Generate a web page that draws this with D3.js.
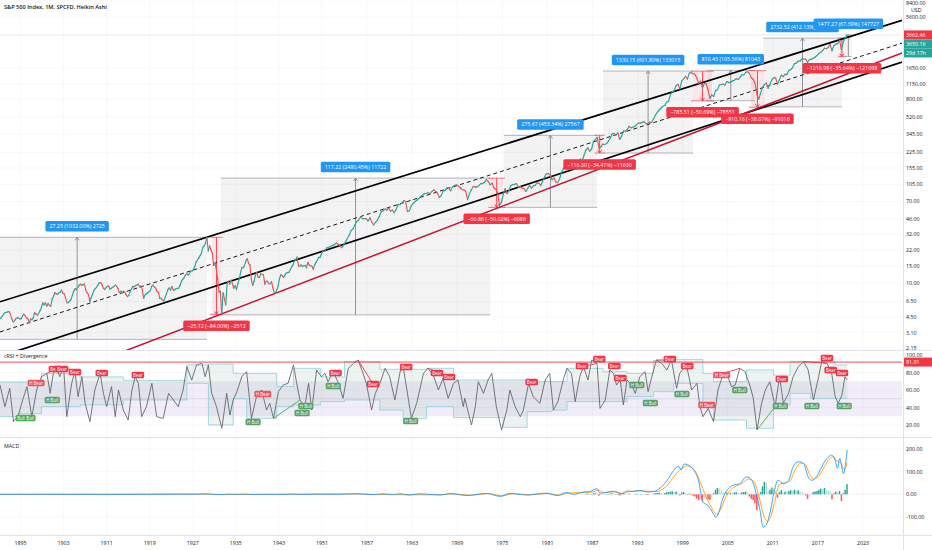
<!DOCTYPE html>
<html><head><meta charset="utf-8">
<script src="https://cdn.jsdelivr.net/npm/d3@7"></script>
<style>
body{margin:0;background:#fff;}
svg{display:block;font-family:"Open Sans","Noto Sans",sans-serif;}
</style></head><body>
<svg id="c" width="932" height="550"></svg>
<script>
// ---------------- DATA ----------------
const title = "S&P 500 Index, 1M, SPCFD, Heikin Ashi";
const xTickYears = [1895,1903,1911,1919,1927,1935,1943,1951,1957,1963,1969,1975,1981,1987,1993,1999,2005,2011,2017,2023];
const priceTicks = [8400,5600,1650,1150,800,520,345,225,155,105,70,46,32,22,15,10,6.5,4.5,3.1,2.15];
const rsiTicks = [100,80,60,40,20];
const macdTicks = [200,100,0,-100];
const lastPrice = 3662.46, closePrice = 3650.16, countdown = "29d 17h", rsiLevel = 91.91;

// quarterly Heikin-Ashi closes, starting 1891
const priceStart = 1891;
const priceQ = [
4.3,4.4,4.6,4.8, 5.0,5.0,5.1,5.1, 4.8,4.3,4.0,4.1, 4.3,4.4,4.4,4.3,
4.3,4.6,4.8,4.6, 4.4,4.3,3.9,4.3, 4.2,4.4,5.0,4.8, 4.7,4.9,5.2,5.6,
6.3,6.0,6.3,5.8, 6.2,5.9,5.8,6.9, 7.3,8.0,7.8,7.7, 8.0,8.1,8.5,7.9,
7.8,7.0,6.3,6.3, 6.6,6.8,7.5,8.3, 8.8,8.6,9.1,9.5, 9.8,9.5,9.7,9.8,
8.5,8.0,7.7,6.5, 7.1,7.7,8.4,8.8, 9.1,9.6,10.1,10.2, 9.7,8.9,8.6,9.0,
9.3,9.4,8.7,8.9, 9.1,9.3,9.6,9.3, 8.8,8.0,8.3,8.0, 8.3,8.1,7.6,7.3,
7.5,8.2,8.8,9.3, 9.2,9.5,9.6,9.8, 9.2,9.4,8.6,7.0, 7.6,7.8,8.0,8.2,
8.4,9.3,9.6,9.1, 8.9,8.2,8.1,7.0, 7.0,6.7,6.6,7.2, 7.8,8.6,9.0,8.5,
9.3,8.5,8.6,8.8, 8.9,8.9,9.5,10.5, 11.0,11.4,12.2,12.5, 12.2,12.6,13.4,13.4,
13.9,14.9,16.7,17.4, 18.3,19.4,20.6,23.5, 24.4,26.0,29.9,21.5, 24.5,22.0,20.5,15.3,
16.0,14.0,11.0,8.1, 8.3,4.8,8.0,6.9, 6.0,10.0,10.5,9.8, 10.8,9.9,8.9,9.5,
8.6,10.0,11.0,13.0, 14.5,14.5,15.5,17.0, 18.0,16.0,15.5,11.0, 9.5,10.5,12.0,13.0,
11.5,11.5,12.5,12.4, 12.2,9.8,10.5,10.5, 9.9,9.9,10.4,9.0, 8.0,8.0,8.6,9.5,
11.3,12.3,12.0,11.5, 12.2,12.8,12.9,13.0, 13.9,14.8,15.5,17.0, 17.6,18.7,15.1,15.0,
15.5,14.9,15.2,15.3, 14.5,16.5,15.5,15.2, 15.0,14.0,15.4,16.5, 17.3,18.5,18.5,20.0,
21.6,21.3,23.3,23.4, 24.0,24.5,25.0,26.0, 25.5,24.5,23.3,24.8, 26.8,29.0,31.5,35.0,
36.5,40.0,43.5,45.0, 48.5,46.5,46.5,46.5, 44.0,47.5,43.0,40.0, 42.5,45.0,49.0,55.0,
56.0,58.5,57.0,59.5, 55.5,57.0,53.5,58.0, 65.0,65.0,67.0,71.5, 70.0,55.0,56.0,63.0,
66.5,69.5,72.0,75.0, 79.0,81.5,84.0,84.5, 86.0,84.0,89.0,92.0, 89.0,85.0,77.0,80.5,
90.0,91.0,97.0,96.0, 90.0,99.0,102.0,103.8, 101.5,97.5,93.0,92.0, 89.5,73.0,84.0,92.0,
100.0,99.0,98.5,102.0, 107.0,107.0,110.0,118.0, 112.0,104.0,108.0,97.5, 93.5,86.0,63.5,68.5,
83.0,95.0,84.0,90.0, 102.0,104.0,105.0,107.0, 98.0,100.0,96.0,95.0, 89.0,95.5,102.5,96.0,
101.5,102.5,109.0,107.5, 102.0,114.0,125.0,135.0, 136.0,131.0,117.0,122.5, 111.0,109.5,120.0,140.0,
152.0,168.0,166.0,164.0, 159.0,153.0,166.0,167.0, 180.0,191.0,182.0,211.0, 238.0,250.0,231.0,242.0,
291.0,304.0,321.0,247.0, 258.0,273.0,271.0,277.0, 294.0,317.0,349.0,353.0, 339.0,358.0,306.0,330.0,
375.0,371.0,387.0,417.0, 403.0,408.0,417.0,435.0, 451.0,450.0,458.0,466.0, 445.0,444.0,462.0,459.0,
500.0,544.0,584.0,615.0, 645.0,670.0,687.0,740.0, 757.0,885.0,947.0,970.0, 1101.0,1133.0,1017.0,1229.0,
1286.0,1372.0,1282.0,1469.0, 1498.0,1454.0,1436.0,1320.0, 1160.0,1224.0,1040.0,1148.0, 1147.0,989.0,815.0,880.0,
848.0,974.0,995.0,1111.0, 1126.0,1140.0,1114.0,1211.0, 1180.0,1191.0,1228.0,1248.0, 1294.0,1270.0,1335.0,1418.0,
1420.0,1503.0,1526.0,1468.0, 1322.0,1280.0,1166.0,903.0, 797.0,919.0,1057.0,1115.0, 1169.0,1030.0,1141.0,1257.0,
1325.0,1320.0,1131.0,1257.0, 1408.0,1362.0,1440.0,1426.0, 1569.0,1606.0,1681.0,1848.0, 1872.0,1960.0,1972.0,2058.0,
2067.0,2063.0,1920.0,2043.0, 2059.0,2098.0,2168.0,2238.0, 2362.0,2423.0,2519.0,2673.0, 2640.0,2718.0,2913.0,2506.0,
2834.0,2941.0,2976.0,3230.0, 2584.0,3100.0,3363.0,3650.16
];

// channel lines: two anchor points [year, price]
const upperLine = [[1929.7,30],[2019.7,3230]];
const midLine = [[1895,3.68],[2023,2241]];
const lowerLine = [[1895,2.06],[2023,1418]];
const supportLine = [[1932.2,4.8],[2009.2,650]];

// price-range measurements [startYear, endYear, low, high, label]
const upMoves = [
 [1881.4,1929.64,2.64,29.89,"27.25 (1032.00%) 2725"],
 [1932.2,1973.4,4.726,121.95,"117.22 (2480.45%) 11722"],
 [1975.2,1987.6,60.81,336.48,"275.67 (453.34%) 27567"],
 [1988.4,2000.4,221.03,1551.18,"1330.15 (601.80%) 133015"],
 [2002.2,2008.6,767.7,1578.1,"810.43 (105.56%) 81043"],
 [2009.7,2020.2,663.03,3395.55,"2732.52 (412.13%) 273252"],
 [2020.6,2021.5,2192.1,3669.4,"1477.27 (67.39%) 147727"]
];
const downMoves = [
 [1930.6,1932.2,4.785,29.905,"\u221225.12 (\u221284.00%) \u22122512"],
 [1973.4,1975.1,60.81,121.67,"\u221260.86 (\u221250.02%) \u22126086"],
 [1987.55,1988.35,221.1,337.4,"\u2212116.30 (\u221234.47%) \u221211630"],
 [2000.4,2002.9,764.1,1549.6,"\u2212785.51 (\u221250.69%) \u221278551"],
 [2008.1,2009.8,657.2,1567.3,"\u2212910.16 (\u221258.07%) \u221291016"],
 [2019.95,2020.45,2186.8,3397.8,"\u22121210.98 (\u221235.64%) \u2212121098"]
];

// cRSI [year, value]
const crsi = [
[1891.2,65.7],[1892.1,41],[1893.0,61.9],[1893.7,23.8],[1894.6,31.4],[1895.5,50.5],[1896.2,63.8],[1897.1,29.5],
[1898.0,60],[1898.9,75.2],[1899.9,79],[1900.5,56.2],[1901.1,79],[1901.7,84.8],[1902.3,75.2],[1903.0,86.7],
[1903.6,29.5],[1904.5,67.6],[1905.1,81],[1905.7,52.4],[1906.4,75.2],[1907.0,44.8],[1907.9,23.8],[1908.8,60],
[1909.8,79],[1910.4,56.2],[1911.0,41],[1911.9,63.8],[1912.6,29.5],[1913.2,60],[1914.1,37.1],[1915.0,25.7],
[1915.7,60],[1916.3,75.2],[1916.9,67.6],[1917.5,29.5],[1918.4,41],[1919.4,67.6],[1920.3,29.5],[1921.5,27.6],
[1922.5,56.2],[1923.4,48.6],[1924.3,41],[1925.2,60],[1925.9,86.7],[1926.8,71.4],[1927.7,88.6],[1928.7,90.5],
[1929.3,75.2],[1929.9,88.6],[1930.5,56.2],[1931.4,41],[1932.4,16.2],[1933.3,56.2],[1933.9,31.4],[1934.5,48.6],
[1935.2,58.1],[1936.1,75.2],[1937.0,81],[1937.9,27.6],[1938.9,54.3],[1939.8,60],[1940.7,37.1],[1941.3,44.8],
[1942.0,27.6],[1942.9,58.1],[1943.8,65.7],[1944.7,67.6],[1945.7,88.6],[1946.3,67.6],[1946.9,48.6],[1947.8,41],
[1948.5,67.6],[1949.1,37.1],[1950.0,82.9],[1950.9,75.2],[1951.4,79],[1951.8,69.5],[1952.5,81],[1953.2,67.6],
[1953.8,50.5],[1954.5,84.8],[1955.2,90.5],[1955.8,94.3],[1956.3,82.9],[1956.9,67.6],[1957.6,37.1],[1958.1,56.2],
[1958.7,67.6],[1959.4,84.8],[1960.0,75.2],[1960.7,48.6],[1961.4,81],[1961.8,86.7],[1962.3,60],[1962.9,27.6],
[1963.6,44.8],[1964.5,79],[1965.1,84.8],[1965.8,77.1],[1966.5,60],[1967.1,73.3],[1967.8,50.5],[1968.5,67.6],
[1969.1,71.4],[1969.8,41],[1970.0,50.5],[1970.5,33.3],[1970.9,20],[1971.4,41],[1971.8,69.5],[1972.5,56.2],
[1973.1,71.4],[1973.6,79],[1974.2,41],[1974.9,14.3],[1975.6,37.1],[1976.0,60],[1976.7,41],[1977.4,29.5],
[1977.8,37.1],[1978.5,67.6],[1979.1,52.4],[1980.0,44.8],[1980.7,71.4],[1981.3,79],[1981.8,37.1],[1982.4,46.7],
[1983.1,71.4],[1983.6,84.8],[1984.2,79],[1984.7,46.7],[1985.3,75.2],[1985.8,86.7],[1986.4,71.4],[1986.9,94.3],
[1987.6,90.5],[1988.0,39],[1988.7,48.6],[1989.3,82.9],[1989.8,79],[1990.2,65.7],[1990.7,71.4],[1991.1,42.9],
[1991.6,71.4],[1992.2,65.7],[1992.7,56.2],[1993.3,75.2],[1994.0,81],[1994.4,58.1],[1994.9,75.2],[1995.5,94.3],
[1996.2,90.5],[1996.9,82.9],[1997.5,94.3],[1998.2,61.9],[1998.6,79],[1999.5,88.6],[2000.2,60],[2000.9,67.6],
[2001.3,41],[2001.7,29.5],[2002.4,39],[2003.1,23.8],[2003.7,60],[2004.4,79],[2005.1,73.3],[2005.5,63.8],
[2006.0,65.7],[2006.6,84.8],[2007.3,81],[2008.0,63.8],[2008.4,50.5],[2008.9,14.3],[2009.5,44.8],[2010.0,60],
[2010.6,69.5],[2011.3,41],[2011.9,75.2],[2012.4,44.8],[2013.1,56.2],[2013.7,75.2],[2014.4,86.7],[2015.1,92.4],
[2015.7,82.9],[2016.4,48.6],[2017.1,75.2],[2017.5,92.4],[2018.2,90.5],[2018.8,81],[2019.3,52.4],[2019.7,44.8],
[2020.2,54.3],[2020.6,75.2],[2020.9,71.4]
];
// cRSI dynamic bands [startYear, upper, lower]
const crsiBands = [
[1891.2,69,29.5],[1894.8,69,33],[1898.9,79,41],[1906.1,75,43],[1914.1,71,48.6],[1925.9,88.6,67.6],
[1929.9,89.7,20],[1934.5,79,50],[1937.0,79,27.6],[1942.6,64,41],[1945.7,84.8,42.8],[1950.7,75,46.7],
[1954.0,92.4,48.6],[1958.7,83.6,37.1],[1961.8,83.6,27.6],[1964.9,84.8,41],[1968.5,71.4,28.5],[1975.1,71.4,17.3],
[1978.3,69.5,35.2],[1981.6,69.5,37],[1983.6,84.8,46.7],[1988.4,81,46.7],[1991.6,79,52.4],[1995.1,93.5,58.1],
[1997.8,95,67.6],[2001.7,79,41],[2003.1,69.5,25.7],[2007.5,82.9,16.2],[2011.1,77,42.8],[2013.3,92.4,56.2],
[2016.0,92.4,50.5],[2019.3,88.6,50.5],[2020.9,88.6,50.5]
];
const crsiBandLevels = [30,50,70];
// divergence labels [year, value, text]
const crsiLabels = [
[1895.1,28,"Bull"],[1896.8,28,"Bull"],[1897.9,68,"H Bear"],[1900.9,48.6,"H Bull"],[1901.4,84,"Bear"],[1902.7,84,"Bear"],
[1905.1,80.6,"Bear"],[1910.1,79.4,"Bear"],[1916.8,77.1,"Bear"],[1938.2,23.4,"H Bull"],[1940.0,55.4,"H Bear"],
[1948.0,41.7,"H Bull"],[1947.3,33.7,"H Bull"],[1952.5,64.6,"H Bull"],[1952.8,79.4,"Bear"],[1957.8,66.9,"Bear"],
[1962.2,86.3,"Bear"],[1962.8,24.6,"H Bull"],[1966.3,79.4,"Bear"],[1967.9,74.9,"Bear"],
[1978.9,69.1,"Bear"],[1985.6,87.4,"Bear"],[1987.9,95.4,"Bear"],[1989.9,87.4,"Bear"],[1990.7,73.7,"Bear"],
[1992.9,65.7,"H Bull"],[1994.7,45.1,"H Bull"],[1997.3,95.4,"Bear"],[1999.6,87.4,"Bear"],[1998.9,55.4,"H Bull"],
[2004.2,77.1,"H Bear"],[2002.2,42.9,"H Bear"],[2006.6,60,"H Bull"],[2012.0,41.7,"H Bull"],[2012.2,72.6,"Bear"],
[2018.2,96.6,"Bear"],[2018.7,82.9,"Bear"],[2020.2,79.4,"Bear"],[2016.2,41.7,"H Bull"],[2020.5,41.7,"H Bull"]
];
// divergence lines [y1, v1, y2, v2, kind]
const crsiDivs = [
[1899.9,79,1901.7,84.8,"bear"],[1903.0,86.7,1905.1,81,"bear"],[1955.8,94.3,1957.6,69.5,"bear"],
[1961.4,81,1961.8,86.7,"bear"],[1965.1,84.8,1967.8,76,"bear"],[1985.8,86.7,1987.6,90.5,"bear"],
[1995.5,94.3,1997.5,94.3,"bear"],[2015.1,92.4,2018.2,90.5,"bear"],[2004.4,79,2006.6,84.8,"bear"],
[1942.0,27.6,1946.9,48.6,"bull"],[2008.9,14.3,2011.3,41,"bull"]
];

// MACD [year, value]
const macdLine = [
[1891,0],[1900,0.2],[1910,-0.2],[1920,0.1],[1928,0.8],[1929.6,1.8],[1931,-0.6],[1932.3,-1.6],[1933.5,0.8],[1935,0.2],
[1937,1],[1938,-0.8],[1940,0.2],[1942,-0.4],[1946,0.8],[1947,-0.4],[1950,0.6],[1953,0.2],[1955.5,2.5],[1957.8,-1.5],
[1959,2],[1960.5,-0.5],[1961.5,2.5],[1962.5,-3],[1964,2.5],[1966.7,-3],[1968,3],[1970.3,-5],[1972.9,4],[1974.7,-9],
[1976,4],[1977.5,-1],[1978.3,-3],[1980.8,5],[1982.3,-5],[1983.5,8],[1984.5,0],[1985.8,10],[1986.6,12],[1987.6,25],
[1988.0,5],[1988.8,8],[1989.8,14],[1990.8,2],[1991.6,15],[1992.3,12],[1993.3,17],[1994.4,10],[1995.3,14],[1996.0,28],
[1996.9,60],[1997.8,105],[1998.4,124],[1998.8,108],[1999.2,134],[1999.7,130],[2000.4,110],[2001.1,62],[2001.7,-34],
[2002.4,-50],[2003.1,-86],[2003.4,-101],[2003.8,-80],[2004.4,-12],[2005.1,25],[2005.7,40],[2006.6,47],[2007.5,77],
[2008.2,62],[2008.9,-12],[2009.3,-71],[2009.7,-145],[2010.2,-130],[2010.6,-86],[2011.1,0],[2011.7,62],[2012.4,47],
[2013.1,62],[2013.7,121],[2014.4,144],[2015.1,136],[2015.7,77],[2016.2,62],[2016.8,77],[2017.5,121],[2018.2,158],
[2018.8,173],[2019.3,151],[2019.6,115],[2019.9,158],[2020.4,92],[2020.7,140],[2020.9,196]
];
const signalLine = [
[1891,0],[1929.8,1.2],[1932.8,-1.2],[1955.8,2],[1958.2,-1],[1962.8,-2],[1966.9,-2],[1968.3,2.5],[1970.6,-4],[1973.2,3],
[1975,-7],[1976.4,3],[1978.6,-2],[1981,4],[1982.6,-4],[1983.8,6],[1986.9,10],[1987.9,18],[1988.4,8],[1990,11],[1991,4],
[1992,13],[1993.6,15],[1995.5,12],[1996.3,22],[1997.2,50],[1998.1,90],[1998.8,112],[1999.5,125],[2000.1,120],[2000.8,95],
[2001.5,40],[2002.1,-10],[2002.8,-55],[2003.5,-88],[2004.1,-65],[2004.7,-15],[2005.4,20],[2006.2,38],[2006.9,48],
[2007.8,68],[2008.5,55],[2009.2,-15],[2009.8,-95],[2010.3,-120],[2010.8,-92],[2011.3,-25],[2011.9,45],[2012.6,50],
[2013.3,60],[2014.0,110],[2014.7,138],[2015.3,132],[2015.9,88],[2016.4,68],[2017.0,75],[2017.7,112],[2018.4,150],
[2019.0,166],[2019.5,148],[2020.0,140],[2020.5,110],[2020.9,140]
];
const histStart = 1986;
const histQ = [
2,3,1,2, 4,5,3,-6, -4,-2,1,1, 2,3,4,2, -1,-3,-5,-2, 4,3,2,3, 1,0,1,2, 1,1,1,1,
-2,-3,-1,0, 3,5,6,7, 6,4,6,9, 10,12,13,9, 12,8,-5,8, 10,5,-2,3, -2,-6,-10,-18,
-25,-22,-30,-20, -18,-22,-25,-10, 5,20,28,25, 18,10,5,8, 4,6,5,8, 10,6,5,9,
10,12,8,-10, -20,-25,-40,-70, -50,10,35,55, 50,15,20,30, 25,15,-15,10, 18,8,12,10,
15,18,15,20, 15,18,12,10, 5,-5,-20,-12, -5,10,12,15, 20,25,22,28, 20,15,12,-22,
5,12,8,15, -30,5,20,45
];

// ---------------- LAYOUT ----------------
const W = 932, H = 550, plotR = 902, axisX = 903;
const mainTop = 0, mainBot = 350, rsiTop = 350, rsiBot = 437, macdTop = 437, macdBot = 535;
const GREEN = "#26a69a", RED = "#ef5350", TXT = "#131722";

const x = d3.scaleLinear().domain([1895,1951,2023]).range([20.5,322,863]);
const yP = d3.scaleLog().domain([2.15,8400]).range([348,0]);
const yR = d3.scaleLinear().domain([20,100]).range([425,355]);
const yM = d3.scaleLinear().domain([-100,200]).range([517,449]);

const svg = d3.select("#c");
svg.append("rect").attr("width",W).attr("height",H).attr("fill","#fff");
const defs = svg.append("defs");
function clip(id,y0,y1){defs.append("clipPath").attr("id",id).append("rect").attr("x",0).attr("y",y0).attr("width",plotR).attr("height",y1-y0);}
clip("cm",mainTop,mainBot); clip("cr",rsiTop,rsiBot); clip("cq",macdTop,macdBot);

// grid
const grid = svg.append("g").attr("stroke","#f3f4f7").attr("stroke-width",0.6);
xTickYears.forEach(yr=>grid.append("line").attr("x1",x(yr)).attr("x2",x(yr)).attr("y1",0).attr("y2",macdBot));
priceTicks.forEach(v=>grid.append("line").attr("x1",0).attr("x2",plotR).attr("y1",yP(v)).attr("y2",yP(v)));
rsiTicks.forEach(v=>grid.append("line").attr("x1",0).attr("x2",plotR).attr("y1",yR(v)).attr("y2",yR(v)));
macdTicks.forEach(v=>grid.append("line").attr("x1",0).attr("x2",plotR).attr("y1",yM(v)).attr("y2",yM(v)));

// separators
const sep = svg.append("g").attr("stroke","#e0e3eb").attr("stroke-width",1);
[mainBot, rsiBot, macdBot].forEach(yv=>sep.append("line").attr("x1",0).attr("x2",W).attr("y1",yv+0.5).attr("y2",yv+0.5));
sep.append("line").attr("x1",axisX+0.5).attr("x2",axisX+0.5).attr("y1",0).attr("y2",H);

function tag(g,cx,cy,txt,bg,fs,h,padX,fg){
  const gg = g.append("g");
  const r = gg.append("rect");
  const t = gg.append("text").attr("x",cx).attr("y",cy).attr("text-anchor","middle")
    .attr("dominant-baseline","central").attr("font-size",fs).attr("fill",fg||"#fff").text(txt);
  const w = t.node().getComputedTextLength()+2*padX;
  r.attr("x",cx-w/2).attr("y",cy-h/2).attr("width",w).attr("height",h).attr("rx",1.5).attr("fill",bg);
  return gg;
}

// ---------------- MAIN PANEL ----------------
const main = svg.append("g").attr("clip-path","url(#cm)");

main.append("line").attr("x1",0).attr("x2",plotR).attr("y1",yP(lastPrice)).attr("y2",yP(lastPrice))
  .attr("stroke","#e3e5ea").attr("stroke-width",0.8);

const boxG = main.append("g");
upMoves.forEach(d=>{
  const x0=x(d[0]), x1=x(d[1]), yl=yP(d[2]), yh=yP(d[3]);
  boxG.append("rect").attr("x",x0).attr("y",yh).attr("width",x1-x0).attr("height",yl-yh).attr("fill","rgba(120,123,134,0.09)");
  [yl,yh].forEach(yy=>boxG.append("line").attr("x1",x0).attr("x2",x1).attr("y1",yy).attr("y2",yy).attr("stroke","#9598a1").attr("stroke-width",0.7));
  const xm=(x0+x1)/2;
  boxG.append("line").attr("x1",xm).attr("x2",xm).attr("y1",yl).attr("y2",yh).attr("stroke","#787b86").attr("stroke-width",0.8);
  boxG.append("path").attr("d",`M${xm-2},${yh+3}L${xm},${yh}L${xm+2},${yh+3}`).attr("fill","none").attr("stroke","#787b86").attr("stroke-width",0.8);
});
downMoves.forEach(d=>{
  const x0=x(d[0]), x1=x(d[1]), yl=yP(d[2]), yh=yP(d[3]);
  boxG.append("rect").attr("x",x0).attr("y",yh).attr("width",x1-x0).attr("height",yl-yh).attr("fill","rgba(242,54,69,0.12)");
  [yl,yh].forEach(yy=>boxG.append("line").attr("x1",x0-2).attr("x2",x1+2).attr("y1",yy).attr("y2",yy).attr("stroke","#f23645").attr("stroke-width",0.7));
  const xm=(x0+x1)/2;
  boxG.append("line").attr("x1",xm).attr("x2",xm).attr("y1",yh).attr("y2",yl).attr("stroke","#f23645").attr("stroke-width",0.9);
  boxG.append("path").attr("d",`M${xm-2},${yl-3}L${xm},${yl}L${xm+2},${yl-3}`).attr("fill","none").attr("stroke","#f23645").attr("stroke-width",0.9);
});

function ray(pts,stroke,width,dash){
  const ax=x(pts[0][0]), ay=yP(pts[0][1]), bx=x(pts[1][0]), by=yP(pts[1][1]);
  const s=(by-ay)/(bx-ax);
  main.append("line").attr("x1",0).attr("y1",ay+s*(0-ax)).attr("x2",plotR).attr("y2",ay+s*(plotR-ax))
    .attr("stroke",stroke).attr("stroke-width",width).attr("stroke-dasharray",dash||null);
}
ray(midLine,"#1a1a1a",1,"4,3");
ray(upperLine,"#000",1.7);
ray(lowerLine,"#000",1.7);
ray(supportLine,"#c8102e",1.5);

const pg = main.append("g");
const pt = i=>priceStart+i*0.25+0.125;
for(let i=1;i<priceQ.length;i++){
  const up = priceQ[i]>=priceQ[i-1];
  pg.append("line").attr("x1",x(pt(i-1))).attr("y1",yP(priceQ[i-1])).attr("x2",x(pt(i))).attr("y2",yP(priceQ[i]))
    .attr("stroke",up?GREEN:RED).attr("stroke-width",1.15).attr("stroke-linecap","round");
}

const lblG = svg.append("g").attr("clip-path","url(#cm)");
upMoves.forEach(d=>{
  const xm=(x(d[0])+x(d[1]))/2;
  tag(lblG,xm,yP(d[3])-11,d[4],"#2196f3",5.3,10.5,4);
});
downMoves.forEach(d=>{
  const xm=(x(d[0])+x(d[1]))/2;
  tag(lblG,xm,yP(d[2])+11.5,d[4],"#f23645",5.3,10.5,4);
});

svg.append("text").attr("x",4).attr("y",9).attr("font-size",5.6).attr("font-weight",600).attr("fill",TXT).text(title);

// price axis
const ax = svg.append("g").attr("font-size",5.3).attr("fill",TXT);
priceTicks.forEach(v=>ax.append("text").attr("x",906).attr("y",Math.max(yP(v),2.5)).attr("dominant-baseline","central").text(v.toFixed(2)));
ax.append("text").attr("x",911).attr("y",9.5).attr("dominant-baseline","central").text("USD");
function axisTag(cy,txt,bg){
  const g=svg.append("g");
  g.append("rect").attr("x",axisX+1).attr("y",cy-4.5).attr("width",W-axisX-1).attr("height",9).attr("fill",bg);
  g.append("text").attr("x",906).attr("y",cy).attr("dominant-baseline","central").attr("font-size",5.3).attr("fill","#fff").text(txt);
}
const lp = yP(lastPrice);
axisTag(lp,lastPrice.toFixed(2),"#f23645");
axisTag(lp+9,closePrice.toFixed(2),GREEN);
axisTag(lp+18,countdown,GREEN);

// ---------------- cRSI PANEL ----------------
const rs = svg.append("g").attr("clip-path","url(#cr)");
rs.append("rect").attr("x",0).attr("width",plotR).attr("y",yR(crsiBandLevels[2])).attr("height",yR(crsiBandLevels[0])-yR(crsiBandLevels[2]))
  .attr("fill","rgba(126,87,194,0.11)");
rs.append("line").attr("x1",0).attr("x2",plotR).attr("y1",yR(crsiBandLevels[1])).attr("y2",yR(crsiBandLevels[1]))
  .attr("stroke","#cfc8dc").attr("stroke-width",0.6);
const bandArea = d3.area().x(d=>x(d[0])).y0(d=>yR(d[2])).y1(d=>yR(d[1])).curve(d3.curveStepAfter);
rs.append("path").attr("d",bandArea(crsiBands)).attr("fill","rgba(130,170,150,0.14)");
rs.append("path").attr("d",d3.line().x(d=>x(d[0])).y(d=>yR(d[1])).curve(d3.curveStepAfter)(crsiBands))
  .attr("fill","none").attr("stroke","#86cfd9").attr("stroke-width",0.75);
rs.append("path").attr("d",d3.line().x(d=>x(d[0])).y(d=>yR(d[2])).curve(d3.curveStepAfter)(crsiBands))
  .attr("fill","none").attr("stroke","#86cfd9").attr("stroke-width",0.75);
rs.append("line").attr("x1",0).attr("x2",plotR).attr("y1",yR(rsiLevel)).attr("y2",yR(rsiLevel))
  .attr("stroke","#f23645").attr("stroke-width",0.9);
rs.append("path").attr("d",d3.line().x(d=>x(d[0])).y(d=>yR(d[1]))(crsi))
  .attr("fill","none").attr("stroke","#5d606b").attr("stroke-width",0.85);
crsiDivs.forEach(d=>rs.append("line").attr("x1",x(d[0])).attr("y1",yR(d[1])).attr("x2",x(d[2])).attr("y2",yR(d[3]))
  .attr("stroke",d[4]==="bear"?"#f23645":"#4caf50").attr("stroke-width",0.9));
crsiLabels.forEach(d=>{
  const bear = d[2].indexOf("Bear")>=0, hidden = d[2].indexOf("H ")===0;
  const bg = bear ? (hidden?"#ec5562":"#f23645") : (hidden?"#5a9e68":"#4caf50");
  tag(rs,x(d[0]),yR(d[1]),d[2],bg,4.4,6.5,1.5);
});
svg.append("text").attr("x",4).attr("y",358).attr("font-size",5.3).attr("fill",TXT).text("cRSI + Divergence");
rsiTicks.forEach(v=>ax.append("text").attr("x",906).attr("y",yR(v)).attr("dominant-baseline","central").text(v.toFixed(2)));
axisTag(yR(rsiLevel),rsiLevel.toFixed(2),"#f23645");

// ---------------- MACD PANEL ----------------
const mq = svg.append("g").attr("clip-path","url(#cq)");
mq.append("line").attr("x1",0).attr("x2",plotR).attr("y1",yM(0)).attr("y2",yM(0)).attr("stroke","#eceef2").attr("stroke-width",0.6);
histQ.forEach((v,i)=>{
  const t = histStart+i*0.25+0.125;
  const prev = i>0?histQ[i-1]:0;
  let c;
  if(v>=0) c = v>=prev ? "#26a69a" : "#b2dfdb"; else c = v<=prev ? "#ff5252" : "#ffcdd2";
  const x0 = x(t-0.125)+0.2, x1 = x(t+0.125)-0.2;
  mq.append("rect").attr("x",x0).attr("width",Math.max(0.6,x1-x0))
    .attr("y",Math.min(yM(v),yM(0))).attr("height",Math.abs(yM(v)-yM(0))).attr("fill",c);
});
mq.append("path").attr("d",d3.line().x(d=>x(d[0])).y(d=>yM(d[1])).curve(d3.curveMonotoneX)(signalLine))
  .attr("fill","none").attr("stroke","#ff9800").attr("stroke-width",0.85);
mq.append("path").attr("d",d3.line().x(d=>x(d[0])).y(d=>yM(d[1])).curve(d3.curveMonotoneX)(macdLine))
  .attr("fill","none").attr("stroke","#2196f3").attr("stroke-width",0.85);
svg.append("text").attr("x",4).attr("y",448).attr("font-size",5.3).attr("fill",TXT).text("MACD");
macdTicks.forEach(v=>ax.append("text").attr("x",906).attr("y",yM(v)).attr("dominant-baseline","central").text(v.toFixed(2)));

// ---------------- TIME AXIS ----------------
xTickYears.forEach(yr=>svg.append("text").attr("x",x(yr)).attr("y",543).attr("text-anchor","middle")
  .attr("dominant-baseline","central").attr("font-size",5.3).attr("fill",TXT).text(yr));
</script>
</body></html>
